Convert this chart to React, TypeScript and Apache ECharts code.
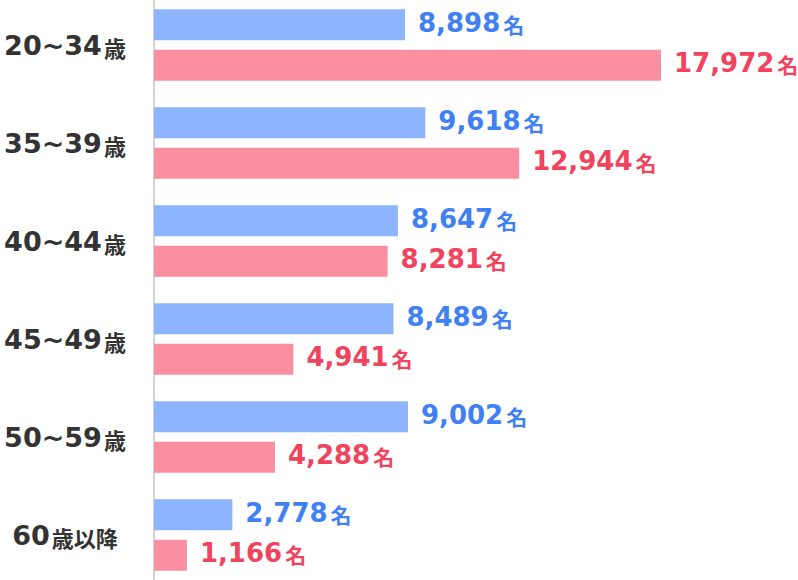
import React, { useEffect, useRef } from "react";
import * as echarts from "echarts";

const categories = ["20~34歳", "35~39歳", "40~44歳", "45~49歳", "50~59歳", "60歳以降"];
const blueValues = [8898, 9618, 8647, 8489, 9002, 2778];
const pinkValues = [17972, 12944, 8281, 4941, 4288, 1166];
const unitLabel = "名";

const NUM_FONT = "'DejaVu Sans', sans-serif";
const CJK_FONT = "'Noto Sans CJK JP', sans-serif";

function catFormatter(v: string) {
  const parts = v.split(/([0-9~,]+)/).filter((s) => s.length > 0);
  return parts
    .map((s) => (/^[0-9~,]+$/.test(s) ? `{n|${s}}` : `{k|${s}}`))
    .join("");
}

function valueLabel(color: string) {
  return {
    show: true,
    position: "right" as const,
    distance: 13,
    offset: [0, -2],
    formatter: (p: any) => `{n|${Number(p.value).toLocaleString("en-US")}}{u|${unitLabel}}`,
    rich: {
      n: { fontFamily: NUM_FONT, fontWeight: "bold", fontSize: 26, color },
      u: { fontFamily: CJK_FONT, fontWeight: "bold", fontSize: 21, color, padding: [2, 0, 0, 3] },
    },
  };
}

export default function App() {
  const ref = useRef<HTMLDivElement>(null);
  useEffect(() => {
    if (!ref.current) return;
    const chart = echarts.init(ref.current, undefined, { renderer: "svg" });
    chart.setOption({
      animation: false,
      backgroundColor: "#ffffff",
      grid: {
        left: 154,
        top: -4,
        height: 588,
        width: 564.2,
        containLabel: false,
        outerBoundsMode: "none",
      },
      xAxis: { type: "value", min: 0, max: 20000, show: false },
      yAxis: {
        type: "category",
        data: categories,
        inverse: true,
        offset: 5,
        axisLine: { show: true, lineStyle: { color: "#d4d4d4", width: 2 } },
        axisTick: { show: false },
        splitLine: { show: false },
        axisLabel: {
          align: "center",
          margin: 84,
          formatter: catFormatter,
          rich: {
            n: { fontFamily: NUM_FONT, fontWeight: "bold", fontSize: 27, color: "#333333" },
            k: { fontFamily: CJK_FONT, fontWeight: "bold", fontSize: 22, color: "#333333", padding: [3, 0, 0, 2] },
          },
        },
      },
      series: [
        {
          name: "A",
          type: "bar",
          data: blueValues,
          barWidth: 31,
          barGap: "30%",
          itemStyle: { color: "#8db4ff" },
          label: valueLabel("#3f80f2"),
        },
        {
          name: "B",
          type: "bar",
          data: pinkValues,
          barWidth: 31,
          itemStyle: { color: "#f98fa1" },
          label: valueLabel("#f0435d"),
        },
      ],
    });
    return () => chart.dispose();
  }, []);
  return (
    <div
      ref={ref}
      style={{ position: "fixed", left: 0, top: 0, width: 798, height: 580 }}
    />
  );
}
